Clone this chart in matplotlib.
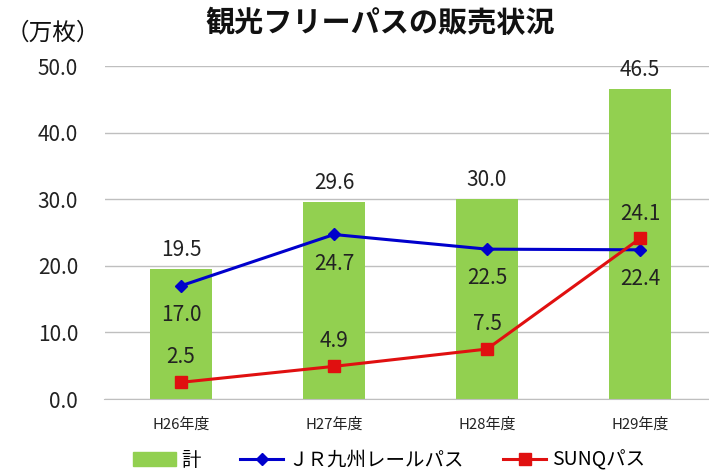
import matplotlib
matplotlib.use("Agg")
import matplotlib.pyplot as plt
from matplotlib.lines import Line2D
from matplotlib.patches import Patch

plt.rcParams['font.family'] = ['Noto Sans CJK JP', 'DejaVu Sans']

categories = ["H26年度", "H27年度", "H28年度", "H29年度"]
total = [19.5, 29.6, 30.0, 46.5]
jr_rail = [17.0, 24.7, 22.5, 22.4]
sunq = [2.5, 4.9, 7.5, 24.1]
yticks = [0, 10, 20, 30, 40, 50]

fig = plt.figure(figsize=(7.09, 4.71), dpi=100)
ax = fig.add_axes([104.5 / 709, (471 - 399) / 471, 612 / 709, 333 / 471])
x = list(range(len(categories)))

ax.bar(x, total, width=0.4, color="#92D050", zorder=2)
ax.plot(x, jr_rail, color="#0000CC", lw=2.2, marker="D", ms=6, zorder=3)
ax.plot(x, sunq, color="#E01010", lw=2.2, marker="s", ms=8, zorder=4)

lab_kw = dict(ha="center", va="center", fontsize=15, color="#222222")
for i in x:
    ax.text(i, total[i] + 2.85, f"{total[i]:.1f}", **lab_kw)
    ax.text(i, jr_rail[i] - 4.4, f"{jr_rail[i]:.1f}", **lab_kw)
    ax.text(i, sunq[i] + 3.75, f"{sunq[i]:.1f}", **lab_kw)

ax.set_xlim(-0.5, 3.5)
ax.set_ylim(0, 50)
ax.set_yticks(yticks)
ax.set_yticklabels([f"{v:.1f}" for v in yticks], fontsize=15, color="#222222")
ax.set_xticks(x)
ax.set_xticklabels(categories, fontsize=10.8, color="#222222")
ax.yaxis.grid(True, color="#BFBFBF", lw=1, zorder=0)
ax.set_axisbelow(True)
for s in ["top", "right", "left"]:
    ax.spines[s].set_visible(False)
ax.spines["bottom"].set_color("#BFBFBF")
ax.tick_params(axis="y", length=0, pad=19)
ax.tick_params(axis="x", length=0, pad=13)

fig.text(380 / 709, 1 - 23 / 471, "観光フリーパスの販売状況", ha="center", va="center",
         fontsize=21, fontweight="bold", color="#111111")
fig.text(6 / 709, 1 - 33 / 471, "（万枚）", ha="left", va="center", fontsize=17, color="#111111")

handles = [
    Patch(color="#92D050"),
    Line2D([0], [0], color="#0000CC", lw=2.2, marker="D", ms=6),
    Line2D([0], [0], color="#E01010", lw=2.2, marker="s", ms=8),
]
labels = ["計", "ＪＲ九州レールパス", "SUNQパス"]
fig.legend(handles, labels, loc="center", bbox_to_anchor=(389 / 709, 1 - 460 / 471), ncol=3,
           frameon=False, fontsize=14, handlelength=2.2, columnspacing=2.0, handletextpad=0.3)

fig.savefig("out.png", dpi=100)
